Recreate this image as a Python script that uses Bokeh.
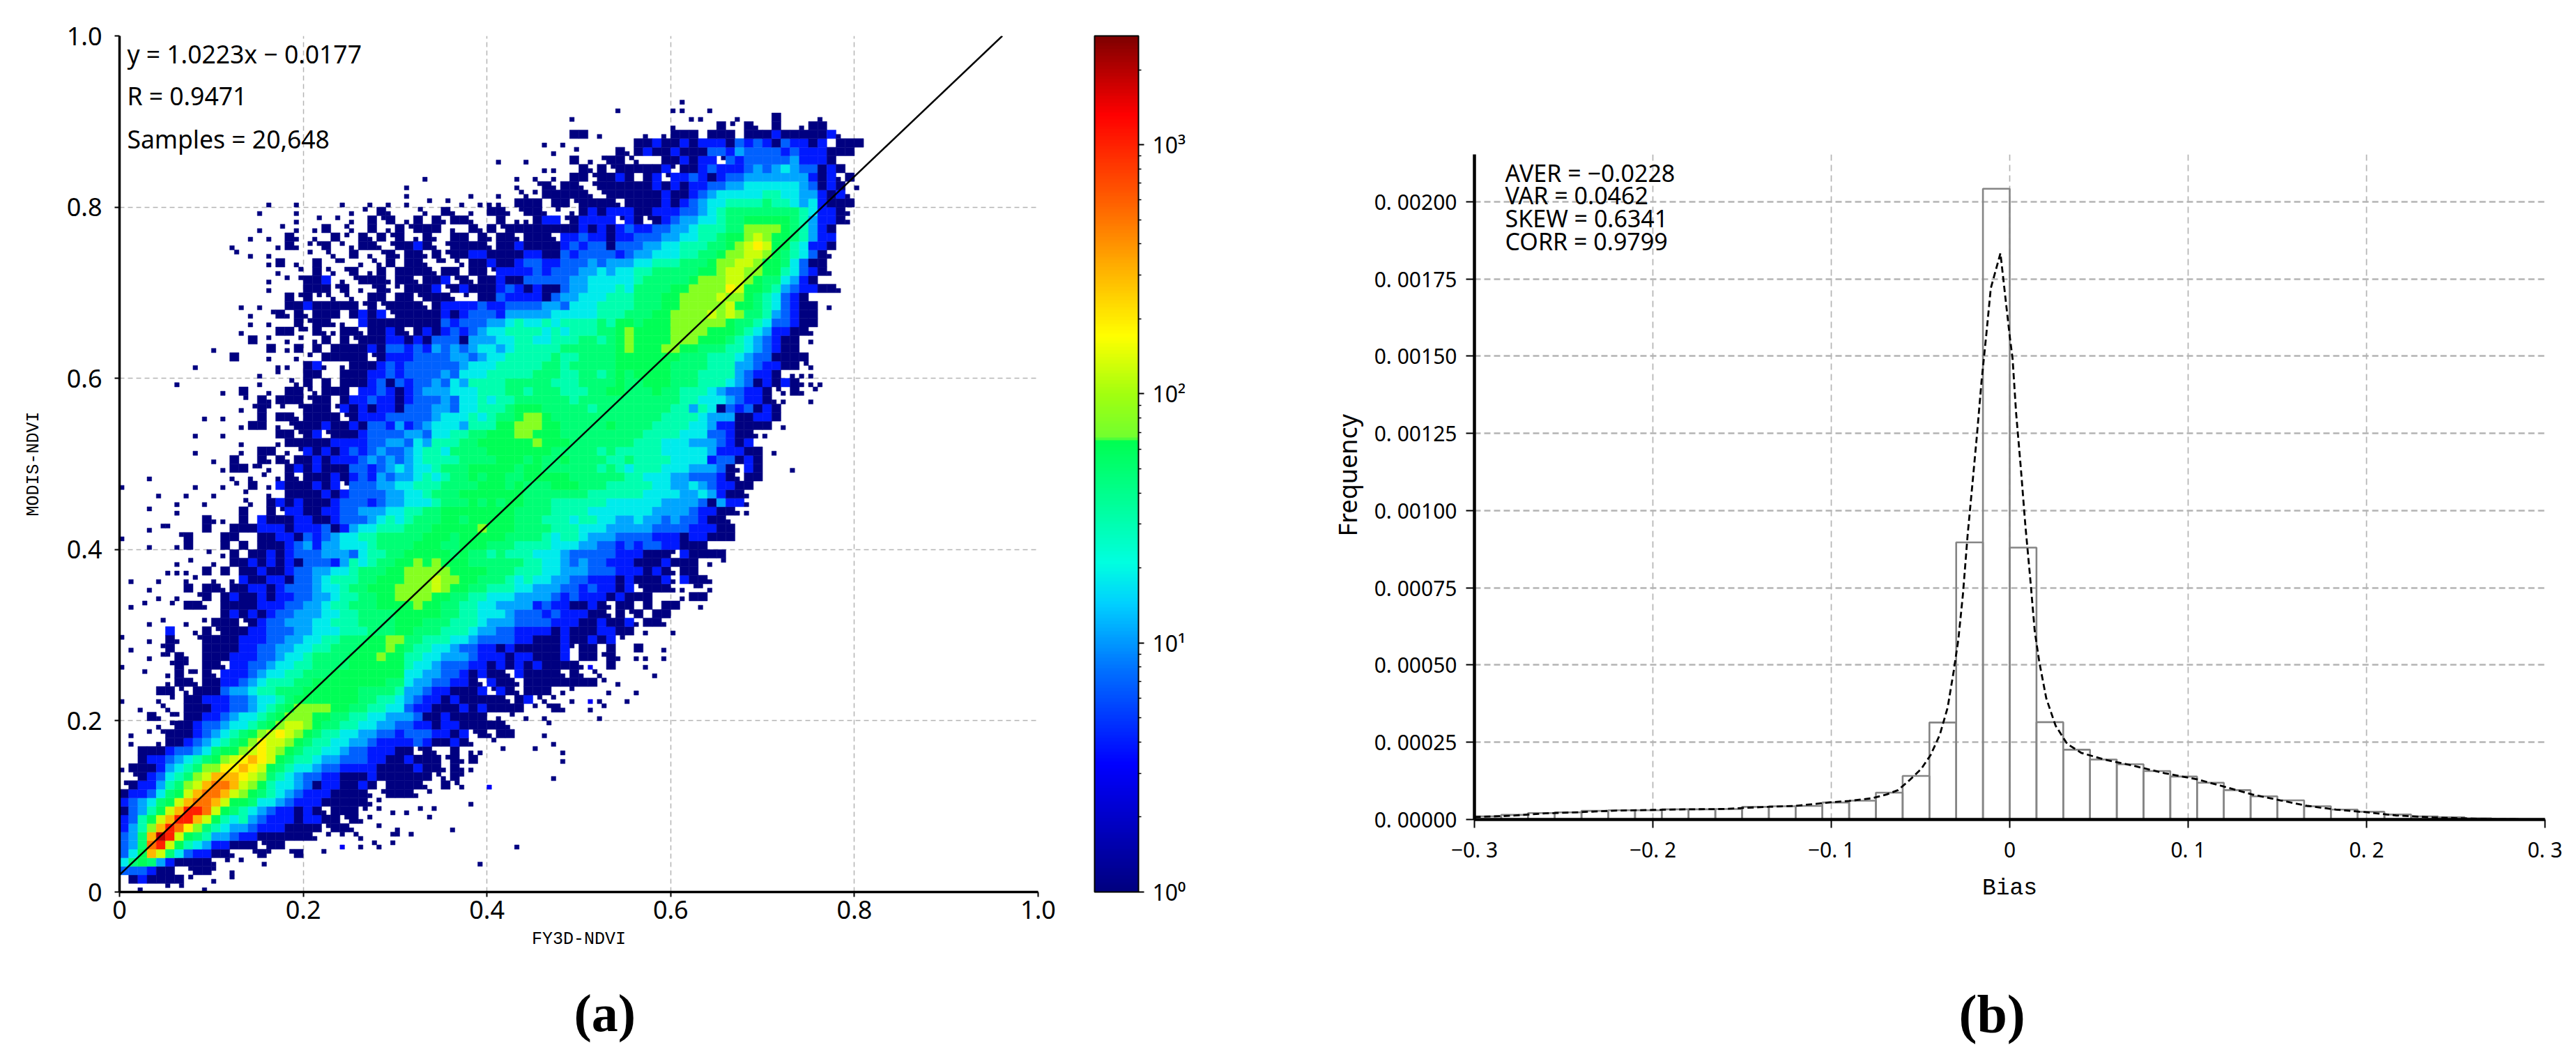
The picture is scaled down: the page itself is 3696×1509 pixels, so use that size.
from bokeh.embed import file_html
from bokeh.layouts import row
from bokeh.models import ColorBar, ColumnDataSource, FixedTicker, Label, LogColorMapper, Range1d, Title
from bokeh.plotting import figure
from bokeh.resources import INLINE

# ---------- panel (a): values ----------
# one string per 0.01 step of MODIS-NDVI (from 0 upwards); each char is a 0.01 step of FY3D-NDVI
# '.' empty, a/b/c/d single-count bin inside the cell, e single small blue bin, 1-9,A-F rising density levels
HEAT_ROW_START = [2, 1, 0, 0, 0, 0, 0, 0, 0, 0, 0, 0, 0, 1, 0, 2, 2, 1, 1, 4, 3, 2, 0, 4, 5, 2, 0, 3, 1, 0, 5, 3,
                  11, 1, 4, 3, 1, 5, 6, 9, 3, 0, 3, 9, 3, 6, 4, 0, 3, 11, 10, 8, 13, 8, 13, 9, 13, 13, 11, 6, 15, 8,
                  12, 10, 14, 13, 14, 14, 13, 18, 16, 16, 17, 16, 12, 12, 14, 15, 19, 15, 16, 31, 31, 33, 46, 41, 47, 46, 49, 60, 49, 54, 61]
HEAT_ROW_CELLS = [
    "a..cb..a",
    "121111b..a.c",
    "333211.b11c.a",
    "5787421111ab.c.d.......................a",
    "358CA7532211a.b1c.b1..c",
    "347DEA865422111b11......e.abab.............a",
    "347CFEA87644322111111ab.cba..bcb",
    "2469CEDB97" "6544322211" "11b11a..c." "a.....a",
    "2368ACEECA" "8656432221" "2211b1ac" ".....b",
    "13468ACEED" "A876543221" "21a111b.cd" ".ab.c",
    "234578ACDD" "CA88755432" "2211111ac" ".........a",
    "1223578ACD" "DCA9876543" "2221111ab" "111ab",
    "b1224679AC" "DDCA986554" "31221121.1" "111a.1ba..e",
    "b1235679AC" "CCBA976543" "3221112111" "111ba1c" ".........a",
    "a111245679" "9BBCBA8765" "5433222211" "1" "1211a1aa",
    "1223456789" "ABCBA87665" "443332211" "2111b1a1" ".........a",
    "1112334578" "89ABA98766" "554332221" "1b1a.1.aa.b...c..a",
    "a..a112345" "6789BAA987" "6655443222" "2321121a.b......a",
    "a.cb111234" "56789ABA98" "7665544332" "3332212b1a11...a",
    "ab11233455" "6789AA9877" "6655443" "32212211111a...b",
    "1abc112234" "5567899988" "77665544" "431121111.ab.a.a.....a",
    "a.ba.11122" "3345678999" "988776655" "3221112121" "111.cb1a.." "ab",
    "a...ab.112" "2233455678" "8888887766" "5" "4322121111" "1a12bac.a." "ea..a",
    "11ba111344" "5667778888" "8877776" "443221112b" "21a111.ac." "..a..a",
    "a11a112234" "5666778888" "888877" "54433221a2" "11a1111111" "1b.a",
    "b..a1bc1a2" "2234556677" "788888888" "5544332121" "1a21111a1a" "ba.....a",
    "a....b1c.1" "1a22334556" "6777788888" "8" "6554333221" "212121111a" "e.1...a",
    "abc1a.1112" "2233455677" "77888988" "6655444322" "21221112.1" "1b1a.aa.a",
    "a..b1...11" "1122334455" "6677788898" "7665543322" "12111112c1" "1.1..1..a",
    "c..a.1a.b1" "1112223344" "5566777889" "9" "7766655433" "3322111211" "212b",
    "2..a1b1112" "2333445556" "667778" "8777666544" "3322221211" "12211.a..a",
    "ab..a.c111" "b123344455" "66677778" "8877766654" "4433332221" "12112a11a",
    "1212123344" "4556677778" "8888776655" "5433323222" "11a1b1.11",
    "ab..b.11a." "1111222334" "4566777888" "8988776655" "4444232211" "21a11.1.11" "..a",
    "a.a.b1.121" "1212233445" "6677889999" "8877665554" "4443232221" "2111...a11",
    "a...1.11a1" "1221233345" "5677888999" "9A98877666" "5544433232" "212b111aab" "ca",
    "a..a..ac.a" ".a21122133" "4566677888" "999A998877" "7656554433" "222121112a" "211a",
    "aaa.1.1.11" "2112334455" "6777889999" "9888877766" "6554443332" "22121a11",
    "ab..a.1121" "2121333246" "5677889898" "8877777766" "5543433222" "1112111.ab",
    "b.a1.11212" "3334443566" "7788888787" "7676665554" "3333322211" "1c21111",
    "a..a1...1." "1.11123424" "4555677778" "8877888777" "6666555443" "3232332211" "1",
    "a.....b1.." ".11..11221" "3234556677" "7778887888" "8877776566" "5444333322" "2122111",
    "abc...1..1" "1122212223" "1245566677" "7888889888" "7777666555" "4444433332" "2211",
    "1aa.1.2111" "2211233345" "6567778878" "8888777666" "5665544" "5443433211a",
    "c..a......" "1..1b22112" "2334445566" "7788888888" "7777666655" "555" "55444432211aa",
    "a..a...ba." "1212111233" "3234455567" "7787878877" "7666666555" "555444431422a",
    "a..a..a..b" "..a.111121" "2333344556" "7778888888" "7777777666" "66" "655554454211a",
    "a.......a." ".ab.1.a211" "1212b33344" "5566677778" "8878777888" "777666" "6655445432211",
    "a........a" ".ab.a1a111" "2123243445" "6567787887" "7888887777" "776" "65554433321a11",
    "a11bca.121" "2111332345" "4556777888" "8878877777" "76765" "66655544431a21...a",
    "a.1..1a1a1" "1212223434" "3456666777" "7888787787" "777667" "66665555233121",
    "a....a.11." "ab21212323" "4334566577" "7788888887" "77776766" "66655555422211.a",
    "a...a11111" "2222334435" "4666778888" "8898887777" "777" "6665554443212",
    "a..a.....1" "1b12b11123" "3334435566" "7788899888" "77777777" "7666655533211aa",
    "a11.ab1112" "1121332423" "4555466688" "9998877777" "877" "776666554221111.a",
    "a.a...1.11" "a1111b1222" "3333345556" "5677899877" "7777777" "7776666544411221",
    "ab1cb.b111" "b212122133" "3443556667" "8887777767" "777" "7777664651323121",
    "b.1a111b11" ".122322123" "3343556566" "7777776777" "777" "777776655543221aa..a",
    "a.1..a.11b" "a111.22321" "2344455566" "6776777666" "77887" "778776665433221ba1ab",
    "a........a" "..ba1.1.11" "1231323343" "5466667777" "7666777787" "788877766654312121aaa",
    "a.c..11..1" "1122323333" "4355566666" "77766776787" "8888777666643221.aaa",
    "a........a" "a.12a.a111" "2323333334" "5556666677" "67777788" "888877776664432211ba",
    "1...a..ab." "11111b1222" "3333443455" "6666676677" "7788" "8888877766654331111",
    "a.....1.a1" ".1.1111213" "3232434345" "5456666677" "777789" "888998877766543211",
    "1.c.ab.a1." "1b11122121" "3331444556" "6556667767" "89" "888899988876543211.a",
    "a...11bc1a" "a11a1121a1" "2123234556" "6665656667" "789" "8888999988876542211a",
    "a.a..1b11a" "a.21111111" "1323334456" "5565666676" "88" "78889999998776533211",
    "a.b1a1a111" ".1212b1111" "1212333244" "4445555566" "67" "77889999A9A977643211",
    "a.a..11211" "111b1b1111" "a122223223" "3334435556" "666" "7778899999A887653211.a",
    "1b1bbaba.1" "1.11b111ab" ".113222213" "44555666" "777889999A998765321",
    "a...111b1." "ab1ac1112b" "1211123212" "1134455565" "7777889999BA8876432211a",
    "a.cb112.ab" "111a11a112" "b1a1121133" "3334455555" "6777778999AA98775421",
    "a.b.1bab1." "a1.1111a11" ".11b222232" "333445455" "6677777889AA998865321a",
    "a1.a.1.bc." "aba1.11abc" "ba11211233" "2233343444" "55666777899AA98875311",
    "b.a.a...b." "ba.1.ab1a1" "1a1b112211" "1122113233" "3323" "445556677899AA9876531a",
    "a....a1abb" "1.ca11ab11" "21ab1111a1" "1211112323" "3133" "344556667789ABA8865221",
    "a.a.1a.a.1" "b.1a1b1.a1" "a.11.1a11a" "111a223221" "22" "3334455667889A98876422",
    "a.b.a.a1.b" "a.1.a1b111" ".a.1a1b111" "1111121212" "3" "2233445666779999876421",
    "a.b.b.a.1b" "1.a1.1a11a" "..1.aa122b" "12222b2" "1b123445567788888764221a",
    "a...a.....a" "b.1a..ba.1" "a.a.11ab11" "ab.a121222" "11222334567777777765221a",
    "a..a....a." ".a.a.a.b.b" ".a.aaa.111" ".11b1111a1" "1112123455" "6666766545" "2111",
    "a......a..a" ".bac11111a" "b111" "11121123455555665544212a",
    "a...........a.b1a11ab1111" "1121212233" "4455555543" "121.a",
    "a.........a.a.a.11b1121" ".12b223212" "3344444442" "12a1",
    "aa..1a1b11" "1112c11232" "2234345433" "121",
    "a..a....1.ab11b" "a..112122b" "3233333422" "21",
    "a.b....1a" "1211211133" "2433332322" "2111",
    "a.a......." "1121121222" "1323213221" "2.111",
    "11.a....a.a111.111.1112" "11111" "2a",
    "a....1b.1a.1..a11",
    "a............aa...a...1....a",
    "a.....aa..a",
    "a",
]
LEVEL_COUNTS = {"a": 1, "b": 1, "c": 1, "d": 1, "e": 3, "1": 1, "2": 4, "3": 7, "4": 11, "5": 18, "6": 30, "7": 48,
                "8": 62, "9": 80, "A": 125, "B": 190, "C": 300, "D": 500, "E": 1000, "F": 2000}
LINE_X = [0.0, 0.961]
LINE_Y = [0.02, 1.0]
TICKS_A = [0, 0.2, 0.4, 0.6, 0.8, 1.0]
TICK_LABELS_A = ["0", "0.2", "0.4", "0.6", "0.8", "1.0"]
STATS_A = ["y = 1.0223x \u2212 0.0177", "R = 0.9471", "Samples = 20,648"]
STATS_A_Y = [0.9796, 0.930, 0.8795]
CBAR_TICKS = [1, 10, 100, 1000]
CBAR_LABELS = ["10\u2070", "10\u00b9", "10\u00b2", "10\u00b3"]
CBAR_MINOR = [2, 3, 4, 5, 6, 7, 8, 9, 20, 30, 40, 50, 60, 70, 80, 90, 200, 300, 400, 500, 600, 700, 800, 900, 2000]
CBAR_MAX = 2735

# ---------- panel (b): values ----------
HIST_EDGE_STEP = 0.015
HIST_HEIGHT = [0.000010, 0.000015, 0.000021, 0.000023, 0.000028, 0.000030, 0.000030, 0.000033, 0.000033, 0.000034,
               0.000041, 0.000043, 0.000044, 0.000055, 0.000061, 0.000087, 0.000141, 0.000314, 0.000897, 0.002042,
               0.000880, 0.000315, 0.000226, 0.000194, 0.000179, 0.000157, 0.000139, 0.000119, 0.000095, 0.000075,
               0.000062, 0.000043, 0.000032, 0.000025, 0.000016, 0.000010, 0.000007, 0.000004, 0.000002, 0.000001]
CURVE_X = [-0.3, -0.28, -0.26, -0.24, -0.22, -0.2, -0.18, -0.16, -0.14, -0.12, -0.1, -0.09, -0.077, -0.069, -0.0626,
           -0.056, -0.0496, -0.0444, -0.0392, -0.0348, -0.0314, -0.0288, -0.0262, -0.0236, -0.021, -0.0184, -0.0158,
           -0.0132, -0.0106, -0.0052, 0.0, 0.0016, 0.0036, 0.0062, 0.0088, 0.0114, 0.014, 0.0166, 0.0205, 0.0257,
           0.0322, 0.04, 0.053, 0.0686, 0.0868, 0.105, 0.1205, 0.136, 0.1517, 0.167, 0.183, 0.201, 0.2166, 0.237,
           0.269, 0.3]
CURVE_Y = [0.000008, 0.000012, 0.00002, 0.000024, 0.000029, 0.000031, 0.000033, 0.000034, 0.00004, 0.000044, 0.000056,
           0.00006, 0.000069, 0.000081, 0.000095, 0.000128, 0.000164, 0.000208, 0.000274, 0.000362, 0.00048, 0.000582,
           0.00073, 0.00092, 0.00108, 0.001242, 0.001418, 0.001565, 0.00172, 0.001833, 0.001565, 0.001492, 0.001315,
           0.00114, 0.00095, 0.000787, 0.000611, 0.000509, 0.000392, 0.000304, 0.000245, 0.000216, 0.000194, 0.000175,
           0.00015, 0.00013, 0.000106, 0.000081, 0.000062, 0.000044, 0.000032, 0.000023, 0.000013, 0.000007, 0.000001, 0.0]
TICKS_BX = [-0.3, -0.2, -0.1, 0, 0.1, 0.2, 0.3]
TICK_LABELS_BX = ["\u22120. 3", "\u22120. 2", "\u22120. 1", "0", "0. 1", "0. 2", "0. 3"]
TICKS_BY = [0, 0.00025, 0.0005, 0.00075, 0.001, 0.00125, 0.0015, 0.00175, 0.002]
TICK_LABELS_BY = ["0. 00000", "0. 00025", "0. 00050", "0. 00075", "0. 00100", "0. 00125", "0. 00150", "0. 00175", "0. 00200"]
STATS_B = ["AVER = \u22120.0228", "VAR = 0.0462", "SKEW = 0.6341", "CORR = 0.9799"]
STATS_B_Y = [0.002093, 0.00202, 0.001946, 0.001871]

# ---------- colours ----------
ANCHORS = [(0.0, (0, 0, 128)), (0.148, (0, 0, 255)), (0.258, (0, 112, 255)), (0.336, (0, 208, 255)), (0.384, (0, 255, 224)),
           (0.446, (0, 255, 160)), (0.528, (0, 255, 80)), (0.530, (112, 255, 48)), (0.58, (160, 255, 16)), (0.65, (255, 255, 0)),
           (0.729, (255, 176, 0)), (0.807, (255, 96, 0)), (0.909, (255, 0, 0)), (1.0, (128, 0, 0))]


def ramp(t):
    for (t0, c0), (t1, c1) in zip(ANCHORS, ANCHORS[1:]):
        if t <= t1:
            f = (t - t0) / (t1 - t0)
            return "#%02x%02x%02x" % tuple(round(a + (b - a) * f) for a, b in zip(c0, c1))
    return "#800000"


PALETTE = [ramp(i / 255) for i in range(256)]
mapper = LogColorMapper(palette=PALETTE, low=1, high=CBAR_MAX)

# ---------- panel (a) ----------
GRID = "#b4b4b4"
TICK_FONT = "Noto Sans"
p1 = figure(width=1868, height=1501, output_backend="svg", toolbar_location=None,
            x_range=Range1d(0, 1), y_range=Range1d(0, 1), frame_align=False,
            min_border_left=171, min_border_right=379, min_border_top=51, min_border_bottom=222,
            outline_line_color=None)
p1.xgrid.ticker = FixedTicker(ticks=TICKS_A)
p1.ygrid.ticker = FixedTicker(ticks=TICKS_A)
for g in (p1.xgrid, p1.ygrid):
    g.grid_line_color = GRID
    g.grid_line_dash = [7, 5]
    g.grid_line_width = 1.5

left, right, bottom, top, count = [], [], [], [], []
sub_x = {"a": 0.0, "b": 0.005, "c": 0.0, "d": 0.005, "e": 0.0}
sub_y = {"a": 0.0, "b": 0.005, "c": 0.005, "d": 0.0, "e": 0.0}
for j, (start, cells) in enumerate(zip(HEAT_ROW_START, HEAT_ROW_CELLS)):
    for k, ch in enumerate(cells):
        if ch == ".":
            continue
        i = start + k
        x0, y0 = i * 0.01, j * 0.01
        if ch in sub_x:
            x0 += sub_x[ch]
            y0 += sub_y[ch]
            size = 0.005
        else:
            size = 0.01
        left.append(x0)
        right.append(x0 + size)
        bottom.append(y0)
        top.append(y0 + size)
        count.append(LEVEL_COUNTS[ch])
heat = ColumnDataSource(dict(left=left, right=right, bottom=bottom, top=top, count=count))
p1.quad(left="left", right="right", bottom="bottom", top="top", source=heat,
        fill_color={"field": "count", "transform": mapper}, line_color={"field": "count", "transform": mapper}, line_width=0.5)
p1.line(LINE_X, LINE_Y, line_color="black", line_width=2.5)

for ax, label, standoff in ((p1.xaxis[0], "FY3D-NDVI", 12), (p1.yaxis[0], "MODIS-NDVI", 30)):
    ax.ticker = FixedTicker(ticks=TICKS_A)
    ax.major_label_overrides = dict(zip(TICKS_A, TICK_LABELS_A))
    ax.minor_tick_line_color = None
    ax.major_tick_in = 0
    ax.major_tick_out = 7
    ax.major_tick_line_width = 2
    ax.axis_line_width = 3.5
    ax.axis_line_color = "black"
    ax.major_label_text_font = TICK_FONT
    ax.major_label_text_font_size = "36px"
    ax.major_label_text_color = "black"
    ax.axis_label = label
    ax.axis_label_text_font = "Liberation Mono"
    ax.axis_label_text_font_style = "normal"
    ax.axis_label_text_font_size = "25px"
    ax.axis_label_text_color = "black"
    ax.axis_label_standoff = standoff
p1.xaxis[0].major_label_standoff = 5
p1.yaxis[0].major_label_standoff = 18
p1.yaxis[0].major_label_orientation = "horizontal"

for text, y in zip(STATS_A, STATS_A_Y):
    p1.add_layout(Label(x=0.0083, y=y, text=text, text_font=TICK_FONT, text_font_size="35.5px",
                        text_baseline="middle", text_color="black"))
p1.add_layout(Title(text="(a)", align="left", offset=652, standoff=0, padding=(0, 0, 44, 0), vertical_align="bottom",
                    text_font="Liberation Serif", text_font_style="bold", text_font_size="76px", text_color="black"), "below")

cbar = ColorBar(color_mapper=mapper, width=63, height=1228, padding=0, location=(81, 0),
                ticker=FixedTicker(ticks=CBAR_TICKS, minor_ticks=CBAR_MINOR),
                major_label_overrides=dict(zip(CBAR_TICKS, CBAR_LABELS)),
                major_label_text_font=TICK_FONT, major_label_text_font_size="32px", major_label_text_color="black",
                major_tick_in=0, major_tick_out=8, major_tick_line_color="black", major_tick_line_width=2,
                minor_tick_in=0, minor_tick_out=4, minor_tick_line_color="black", minor_tick_line_width=1.5,
                bar_line_color="black", bar_line_width=2, label_standoff=12)
p1.add_layout(cbar, "right")

# ---------- panel (b) ----------
p2 = figure(width=1820, height=1501, output_backend="svg", toolbar_location=None,
            x_range=Range1d(-0.3, 0.3), y_range=Range1d(0, 0.002153), frame_align=False,
            min_border_left=247, min_border_right=37, min_border_top=221, min_border_bottom=326,
            outline_line_color=None)
p2.xgrid.ticker = FixedTicker(ticks=TICKS_BX)
p2.ygrid.ticker = FixedTicker(ticks=TICKS_BY)
p2.xgrid.grid_line_color = GRID
p2.xgrid.grid_line_dash = [9, 6]
p2.xgrid.grid_line_width = 1.7
p2.ygrid.grid_line_color = GRID
p2.ygrid.grid_line_dash = [9, 5]
p2.ygrid.grid_line_width = 2.4

hist_left = [-0.3 + k * HIST_EDGE_STEP for k in range(len(HIST_HEIGHT))]
hist_right = [x + HIST_EDGE_STEP for x in hist_left]
p2.quad(left=hist_left, right=hist_right, bottom=0, top=HIST_HEIGHT, fill_color=None,
        line_color="#858585", line_width=2.6)
p2.line(CURVE_X, CURVE_Y, line_color="black", line_width=2.8, line_dash=[9, 5])

p2.xaxis[0].ticker = FixedTicker(ticks=TICKS_BX)
p2.xaxis[0].major_label_overrides = dict(zip(TICKS_BX, TICK_LABELS_BX))
p2.yaxis[0].ticker = FixedTicker(ticks=TICKS_BY)
p2.yaxis[0].major_label_overrides = dict(zip(TICKS_BY, TICK_LABELS_BY))
for ax in (p2.xaxis[0], p2.yaxis[0]):
    ax.minor_tick_line_color = None
    ax.major_tick_in = 0
    ax.major_tick_out = 12
    ax.major_tick_line_width = 2
    ax.axis_line_width = 4.5
    ax.axis_line_color = "black"
    ax.major_label_text_font = TICK_FONT
    ax.major_label_text_font_size = "30px"
    ax.major_label_text_color = "black"
p2.xaxis[0].major_label_standoff = 10
p2.yaxis[0].major_label_standoff = 13
p2.yaxis[0].major_label_orientation = "horizontal"
p2.xaxis[0].axis_label = "Bias"
p2.xaxis[0].axis_label_text_font = "Liberation Mono"
p2.xaxis[0].axis_label_text_font_style = "normal"
p2.xaxis[0].axis_label_text_font_size = "33px"
p2.xaxis[0].axis_label_text_color = "black"
p2.xaxis[0].axis_label_standoff = 14

p2.add_layout(Title(text="Frequency", align="left", offset=406, standoff=21, text_font=TICK_FONT,
                    text_font_style="normal", text_font_size="36px", text_color="black"), "left")
for text, y in zip(STATS_B, STATS_B_Y):
    p2.add_layout(Label(x=-0.2828, y=y, text=text, text_font=TICK_FONT, text_font_size="34px",
                        text_baseline="middle", text_color="black"))
p2.add_layout(Title(text="(b)", align="left", offset=695, standoff=0, padding=(0, 0, 113, 0), vertical_align="bottom",
                    text_font="Liberation Serif", text_font_style="bold", text_font_size="78px", text_color="black"), "below")

page = row(p1, p2, spacing=0)
open("out.html", "w").write(file_html(page, INLINE))
